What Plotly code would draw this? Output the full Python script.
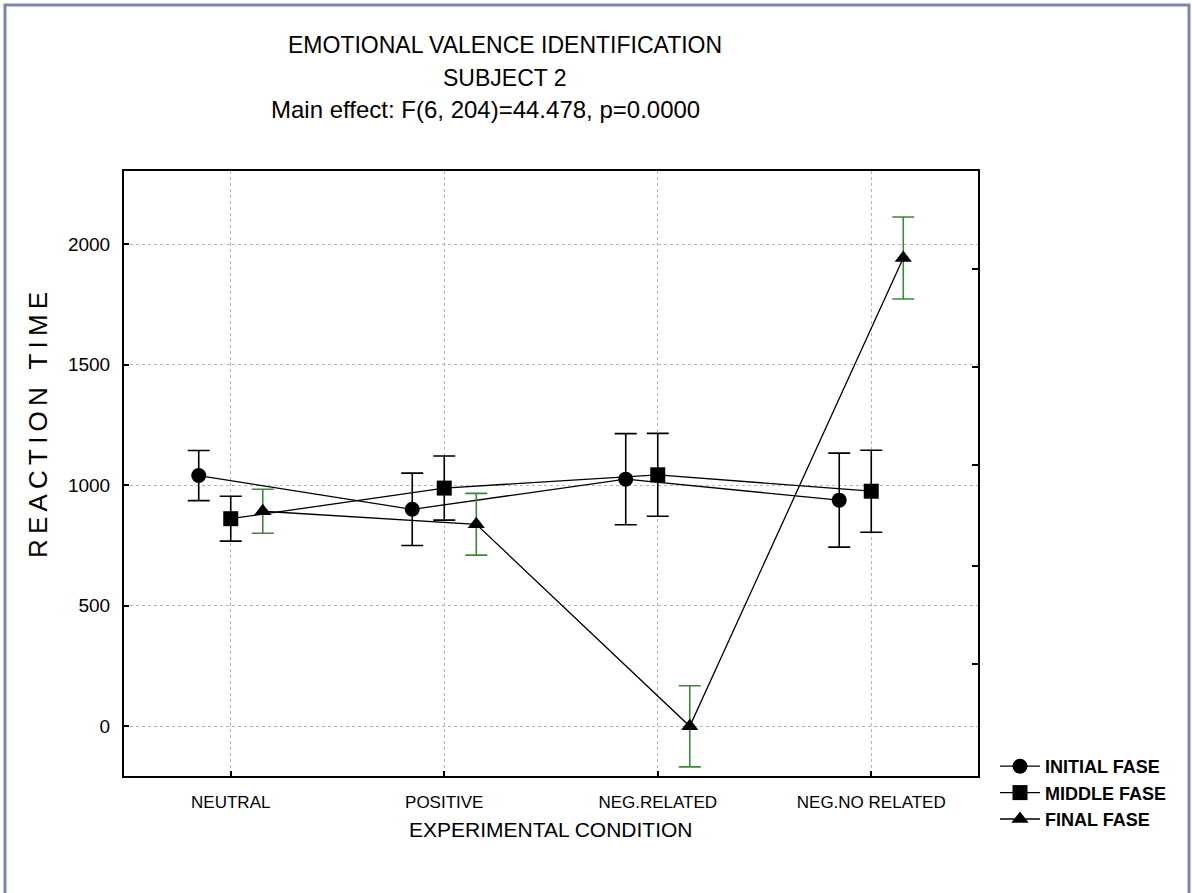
import plotly.graph_objects as go

categories = ["NEUTRAL", "POSITIVE", "NEG.RELATED", "NEG.NO RELATED"]
series_names = ["INITIAL FASE", "MIDDLE FASE", "FINAL FASE"]
initial_mean = [1040, 900, 1025, 938]
initial_err = [104, 150, 189, 195]
middle_mean = [861, 988, 1043, 975]
middle_err = [93, 133, 172, 170]
final_mean = [892, 838, 0, 1942]
final_err = [91, 128, 168, 170]
y_tickvals = [0, 500, 1000, 1500, 2000]
right_tickvals = [257, 664, 1083, 1492, 1898]

FONT = "Liberation Sans Narrow, Arial Narrow, Liberation Sans, Arial, sans-serif"
GREEN = "#3a8a3a"

fig = go.Figure()
specs = [
    (series_names[0], initial_mean, initial_err, "circle", "black"),
    (series_names[1], middle_mean, middle_err, "square", "black"),
    (series_names[2], final_mean, final_err, "triangle-up", GREEN),
]
for name, mean, err, sym, ecol in specs:
    fig.add_trace(go.Scatter(
        x=categories, y=mean, name=name, mode="lines+markers",
        line=dict(color="black", width=1.3),
        marker=dict(symbol=sym, size=15, color="black"),
        error_y=dict(type="data", array=err, visible=True, color=ecol,
                     thickness=1.6, width=11),
    ))

# right-side axis carrying only the inner tick marks
fig.add_trace(go.Scatter(x=[], y=[], yaxis="y2", showlegend=False, hoverinfo="skip"))

L, R, T, B = 124, 214, 171, 117
W, H = 1192, 893
pw, ph = W - L - R, H - T - B

def px(x):
    return (x - L) / pw

def py(y):
    return (H - B - y) / ph

fig.update_layout(
    width=W, height=H,
    margin=dict(l=L, r=R, t=T, b=B, pad=0),
    paper_bgcolor="white", plot_bgcolor="white",
    scattermode="group", scattergap=0.55,
    font=dict(family=FONT, color="black", size=18),
    showlegend=True,
    legend=dict(
        x=px(995), y=py(748), xanchor="left", yanchor="top",
        font=dict(family=FONT, size=18, color="black", weight="bold"),
        bgcolor="rgba(0,0,0,0)", tracegroupgap=0, itemwidth=40,
    ),
    xaxis=dict(
        type="category", range=[-0.5, 3.5],
        showline=True, linecolor="black", linewidth=2, mirror=True,
        ticks="inside", ticklen=5, tickcolor="black", tickwidth=1.5,
        showgrid=True, gridcolor="#b5b5b5", griddash="dot", gridwidth=1,
        tickfont=dict(family=FONT, size=17), ticklabelstandoff=10,
        zeroline=False,
    ),
    yaxis=dict(
        range=[-206, 2303], tickvals=y_tickvals,
        showline=True, linecolor="black", linewidth=2, mirror=True,
        ticks="inside", ticklen=5, tickcolor="black", tickwidth=1.5,
        showgrid=True, gridcolor="#b5b5b5", griddash="dot", gridwidth=1,
        tickfont=dict(family=FONT, size=19), ticklabelstandoff=8,
        zeroline=False,
    ),
    yaxis2=dict(
        overlaying="y", side="right", range=[-206, 2303],
        tickvals=right_tickvals, showticklabels=False,
        ticks="inside", ticklen=6, tickcolor="black", tickwidth=1.5,
        showgrid=False, zeroline=False, showline=False,
    ),
    shapes=[dict(
        type="rect", xref="paper", yref="paper",
        x0=px(5), x1=px(1189), y0=py(905), y1=py(5),
        line=dict(color="#7c87a6", width=3), layer="below",
    )],
    annotations=[
        dict(text="EMOTIONAL VALENCE IDENTIFICATION", x=px(505), y=py(45),
             xref="paper", yref="paper", showarrow=False, xanchor="center",
             yanchor="middle", font=dict(family=FONT, size=23)),
        dict(text="SUBJECT 2", x=px(505), y=py(78),
             xref="paper", yref="paper", showarrow=False, xanchor="center",
             yanchor="middle", font=dict(family=FONT, size=23)),
        dict(text="Main effect: F(6, 204)=44.478, p=0.0000", x=px(485), y=py(110),
             xref="paper", yref="paper", showarrow=False, xanchor="center",
             yanchor="middle", font=dict(family=FONT, size=24)),
        dict(text="R\u2009E\u2009A\u2009C\u2009T\u2009I\u2009O\u2009N\u2009 \u2009T\u2009I\u2009M\u2009E",
             x=px(38), y=py(425), xref="paper", yref="paper", showarrow=False,
             textangle=-90, xanchor="center", yanchor="middle",
             font=dict(family="Liberation Sans, Arial, sans-serif", size=26)),
        dict(text="EXPERIMENTAL CONDITION", x=px(551), y=py(829),
             xref="paper", yref="paper", showarrow=False, xanchor="center",
             yanchor="middle", font=dict(family=FONT, size=21)),
    ],
)

fig.write_html("out.html", config={"displayModeBar": False},
               post_script="document.body.style.margin='0px';")
